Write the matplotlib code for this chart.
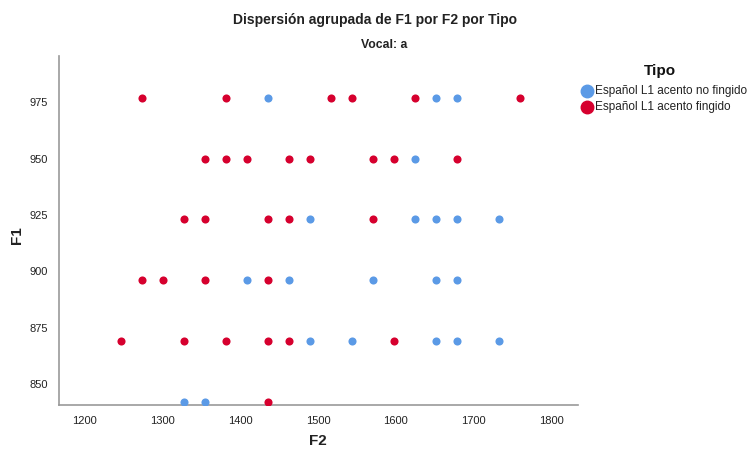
import matplotlib
matplotlib.use("Agg")
import matplotlib.pyplot as plt
from matplotlib.lines import Line2D

plt.rcParams['font.family'] = ['Liberation Sans', 'DejaVu Sans']

# datos (F2, F1) por tipo
tipos = ['Español L1 acento no fingido', 'Español L1 acento fingido']
colores = ['#5B9AE6', '#D6002E']

f2_no_fingido = [1436, 1652, 1679,
                 1625,
                 1490, 1625, 1652, 1679, 1733,
                 1409, 1463, 1571, 1652, 1679,
                 1490, 1544, 1652, 1679, 1733,
                 1328, 1355]
f1_no_fingido = [977, 977, 977,
                 950,
                 923, 923, 923, 923, 923,
                 896, 896, 896, 896, 896,
                 869, 869, 869, 869, 869,
                 842, 842]

f2_fingido = [1274, 1382, 1517, 1544, 1625, 1760,
              1355, 1382, 1409, 1463, 1490, 1571, 1598, 1679,
              1328, 1355, 1436, 1463, 1571,
              1274, 1301, 1355, 1436,
              1247, 1328, 1382, 1436, 1463, 1598,
              1436]
f1_fingido = [977, 977, 977, 977, 977, 977,
              950, 950, 950, 950, 950, 950, 950, 950,
              923, 923, 923, 923, 923,
              896, 896, 896, 896,
              869, 869, 869, 869, 869, 869,
              842]

xticks = [1200, 1300, 1400, 1500, 1600, 1700, 1800]
yticks = [850, 875, 900, 925, 950, 975]

W, H = 750, 449
fig = plt.figure(figsize=(7.5, 4.49), dpi=100)
ax = fig.add_axes([0.0787, 0.098, 0.692, 0.777])

ax.scatter(f2_no_fingido, f1_no_fingido, s=34, color=colores[0], linewidths=0, zorder=3)
ax.scatter(f2_fingido, f1_fingido, s=34, color=colores[1], linewidths=0, zorder=3)

ax.set_xlim(1167, 1834)
ax.set_ylim(840.7, 995.4)
ax.set_xticks(xticks)
ax.set_yticks(yticks)
ax.tick_params(length=0, labelsize=8, colors='#222222', pad=8)

for s in ['top', 'right']:
    ax.spines[s].set_visible(False)
for s in ['left', 'bottom']:
    ax.spines[s].set_color('#999999')
    ax.spines[s].set_linewidth(1.2)

fig.text(0.5, 1 - 20 / H, 'Dispersión agrupada de F1 por F2 por Tipo', ha='center', va='center',
         fontsize=10, fontweight='bold', color='#222222')
fig.text(384 / W, 1 - 45 / H, 'Vocal: a', ha='center', va='center',
         fontsize=8.8, fontweight='bold', color='#222222')
fig.text(318 / W, 1 - 441 / H, 'F2', ha='center', va='center', fontsize=11,
         fontweight='bold', color='#222222')
fig.text(17 / W, 1 - 235 / H, 'F1', ha='center', va='center', fontsize=11,
         fontweight='bold', rotation=90, color='#222222')

# leyenda dibujada a mano
fig.text(660 / W, 1 - 71 / H, 'Tipo', ha='center', va='center', fontsize=11,
         fontweight='bold', color='#111111')
for i, (t, c) in enumerate(zip(tipos, colores)):
    y = 1 - (91 + 16 * i) / H
    fig.add_artist(Line2D([587 / W], [y], transform=fig.transFigure, marker='o',
                          linestyle='', markersize=9, color=c))
    fig.text(595 / W, y, t, ha='left', va='center', fontsize=8.5, color='#222222')

fig.savefig('out.png', dpi=100)
